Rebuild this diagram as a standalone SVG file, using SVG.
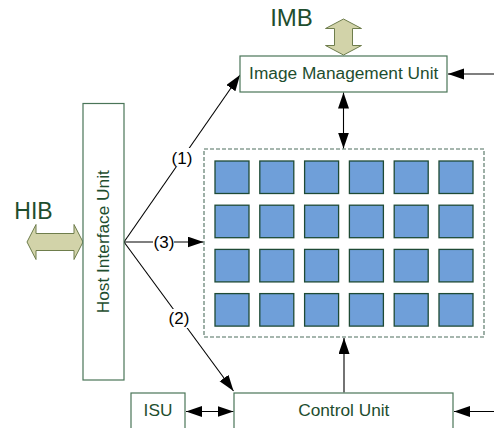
<svg xmlns="http://www.w3.org/2000/svg" width="494" height="428" viewBox="0 0 494 428">
<style>
.box{fill:#fff;stroke:#4a7558;stroke-width:1.2}
.lbl{font-family:"Liberation Sans",Arial,sans-serif;font-size:17.3px;fill:#1e4d2e;text-anchor:middle}
.big{font-family:"Liberation Sans",Arial,sans-serif;font-size:24px;fill:#1e4d2e;text-anchor:middle}
.num{font-family:"Liberation Sans",Arial,sans-serif;font-size:17px;fill:#000;text-anchor:middle}
.pe{fill:#6f9fd9;stroke:#1e4a35;stroke-width:1.3}
.bus{fill:#d2d3a9;stroke:#6e7d4c;stroke-width:1}
.ln{stroke:#000;stroke-width:1.1;fill:none}
</style>
<defs>
<marker id="ah" markerUnits="userSpaceOnUse" markerWidth="17" markerHeight="12" refX="16" refY="5.5" orient="auto-start-reverse">
<path d="M0,0 L16,5.5 L0,11 Z" fill="#000"/>
</marker>
</defs>
<g id="connectors">
<line class="ln" x1="494" y1="74" x2="448" y2="74" marker-end="url(#ah)"/>
<line class="ln" x1="343.5" y1="92.5" x2="343.5" y2="148.5" marker-start="url(#ah)" marker-end="url(#ah)"/>
<line class="ln" x1="124" y1="242" x2="240" y2="75" marker-end="url(#ah)"/>
<line class="ln" x1="124" y1="242" x2="203.5" y2="242" marker-end="url(#ah)"/>
<line class="ln" x1="124" y1="242" x2="233.5" y2="391" marker-end="url(#ah)"/>
<line class="ln" x1="344" y1="392.5" x2="344" y2="338" marker-end="url(#ah)"/>
<line class="ln" x1="186" y1="411.5" x2="233.5" y2="411.5" marker-start="url(#ah)" marker-end="url(#ah)"/>
<line class="ln" x1="494" y1="411.5" x2="454" y2="411.5" marker-end="url(#ah)"/>
<g id="label1"><rect x="172" y="148" width="20" height="19" fill="#fff"/><text class="num" x="182" y="164">(1)</text></g>
<g id="label3"><rect x="153" y="233" width="21" height="19" fill="#fff"/><text class="num" x="164" y="248">(3)</text></g>
<g id="label2"><rect x="169" y="309" width="21" height="19" fill="#fff"/><text class="num" x="179" y="324">(2)</text></g>
</g>
<g id="imb">
<text class="big" x="291.5" y="26">IMB</text>
<polygon class="bus" points="343.5,19 361.5,28.5 352.5,28.5 352.5,45.5 361.5,45.5 343.5,55 325.5,45.5 334.5,45.5 334.5,28.5 325.5,28.5"/>
</g>
<g id="hib">
<text class="big" x="33.5" y="219" style="font-size:23px">HIB</text>
<polygon class="bus" points="27,242 36,224.5 36,233.5 74,233.5 74,224.5 83,242 74,259.5 74,250.5 36,250.5 36,259.5"/>
</g>
<g id="imu">
<rect class="box" x="240" y="56" width="207" height="36"/>
<text class="lbl" x="343.7" y="79">Image Management Unit</text>
</g>
<g id="hiu">
<rect class="box" x="83" y="103.5" width="41" height="276.5"/>
<text class="lbl" transform="translate(108.5,241.7) rotate(-90)" x="0" y="0">Host Interface Unit</text>
</g>
<g id="array">
<rect x="204" y="149" width="280" height="188" fill="none" stroke="#4f6f5f" stroke-width="1.1" stroke-dasharray="4,2"/>
<g id="pes">
<rect class="pe" x="215" y="161" width="34" height="32.5"/><rect class="pe" x="259.8" y="161" width="34" height="32.5"/><rect class="pe" x="304.6" y="161" width="34" height="32.5"/><rect class="pe" x="349.4" y="161" width="34" height="32.5"/><rect class="pe" x="394.2" y="161" width="34" height="32.5"/><rect class="pe" x="439" y="161" width="34" height="32.5"/>
<rect class="pe" x="215" y="205.2" width="34" height="32.5"/><rect class="pe" x="259.8" y="205.2" width="34" height="32.5"/><rect class="pe" x="304.6" y="205.2" width="34" height="32.5"/><rect class="pe" x="349.4" y="205.2" width="34" height="32.5"/><rect class="pe" x="394.2" y="205.2" width="34" height="32.5"/><rect class="pe" x="439" y="205.2" width="34" height="32.5"/>
<rect class="pe" x="215" y="249.4" width="34" height="32.5"/><rect class="pe" x="259.8" y="249.4" width="34" height="32.5"/><rect class="pe" x="304.6" y="249.4" width="34" height="32.5"/><rect class="pe" x="349.4" y="249.4" width="34" height="32.5"/><rect class="pe" x="394.2" y="249.4" width="34" height="32.5"/><rect class="pe" x="439" y="249.4" width="34" height="32.5"/>
<rect class="pe" x="215" y="293.6" width="34" height="32.5"/><rect class="pe" x="259.8" y="293.6" width="34" height="32.5"/><rect class="pe" x="304.6" y="293.6" width="34" height="32.5"/><rect class="pe" x="349.4" y="293.6" width="34" height="32.5"/><rect class="pe" x="394.2" y="293.6" width="34" height="32.5"/><rect class="pe" x="439" y="293.6" width="34" height="32.5"/>
</g>
</g>
<g id="isu">
<rect class="box" x="131" y="393" width="54" height="50"/>
<text class="lbl" x="158" y="416">ISU</text>
</g>
<g id="cu">
<rect class="box" x="234" y="393" width="219" height="50"/>
<text class="lbl" x="343.8" y="416">Control Unit</text>
</g>
</svg>
